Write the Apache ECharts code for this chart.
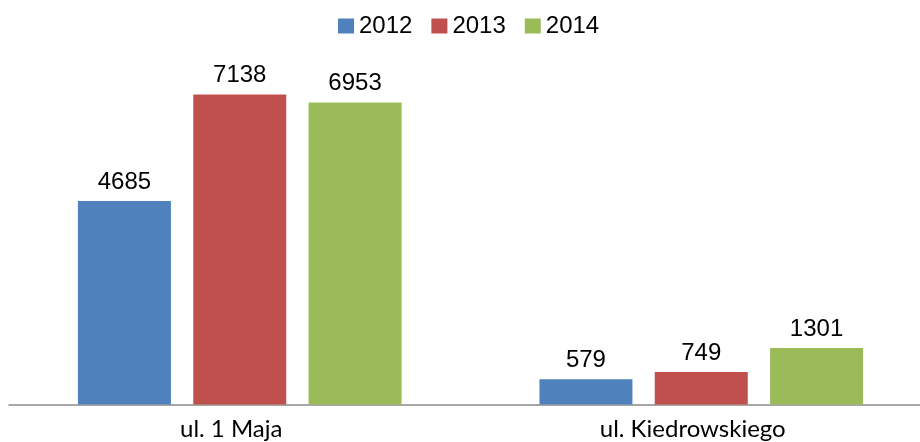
<!DOCTYPE html>
<html>
<head>
<meta charset="utf-8">
<script src="https://cdn.jsdelivr.net/npm/echarts@6/dist/echarts.min.js"></script>
<style>html,body{margin:0;padding:0;background:#fff;overflow:hidden;width:920px;height:442px}#c{width:932px;height:442px}</style>
</head>
<body>
<div id="c"></div>
<script>
const categories = ['ul. 1 Maja', 'ul. Kiedrowskiego'];
const seriesNames = ['2012', '2013', '2014'];
const values2012 = [4685, 579];
const values2013 = [7138, 749];
const values2014 = [6953, 1301];
const colors = ['#4F81BD', '#C0504D', '#9BBB59'];
const FONT = 'Liberation Sans';
const FONT_CAT = 'Lato';

const chart = echarts.init(document.getElementById('c'));
const data = [values2012, values2013, values2014];
chart.setOption({
  animation: false,
  color: colors,
  textStyle: { fontFamily: FONT },
  legend: {
    left: 333, top: 9,
    itemWidth: 16, itemHeight: 15, itemGap: 19,
    icon: 'rect',
    textStyle: { fontFamily: FONT, fontSize: 24, color: '#000' },
    data: seriesNames
  },
  grid: { left: 9, right: 0, top: 57, bottom: 37.5, containLabel: false },
  xAxis: {
    type: 'category',
    data: categories,
    axisLine: { lineStyle: { color: '#898989', width: 1.5 } },
    axisTick: { show: false },
    axisLabel: { fontFamily: FONT_CAT, fontSize: 24, color: '#000', margin: 13, padding: [0, 17, 0, 0] }
  },
  yAxis: {
    type: 'value', min: 0, max: 8000, interval: 1000,
    show: false,
    splitLine: { show: false }
  },
  series: data.map((d, i) => ({
    name: seriesNames[i],
    type: 'bar',
    data: d,
    barWidth: 93,
    barGap: '24%',
    label: { show: true, position: 'top', distance: 7, fontFamily: FONT, fontSize: 24, color: '#000' }
  }))
});
</script>
</body>
</html>
